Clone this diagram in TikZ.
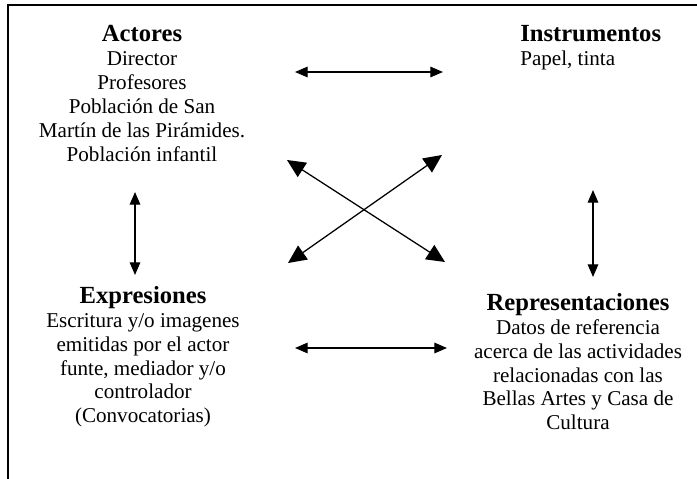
\documentclass[tikz,border=0pt]{standalone}
\usepackage{fontspec}
\setmainfont{Liberation Serif}
\usetikzlibrary{arrows.meta,positioning}

\begin{document}
\begin{tikzpicture}[
x=0.025cm, y=-0.025cm,
block/.style={inner sep=0pt, align={center}, font={\fontsize{15}{17}\selectfont}},
link/.style={line width=0.9pt, {Triangle[length=9pt,width=7.5pt]}-{Triangle[length=9pt,width=7.5pt]}},
cross/.style={line width=0.9pt, {Triangle[length=13pt,width=12pt]}-{Triangle[length=13pt,width=12pt]}}
]
\useasboundingbox (0,0) rectangle (697,479);
% frame
\draw[line width=1pt] (8,479) -- (8,5) -- (697,5);

\node[block, anchor=north] (actores) at (142,25) {
    {\fontsize{17.5}{18}\selectfont\bfseries Actores}\\
    Director\\
    Profesores\\
    Poblaci\'on de San\\
    Mart\'in de las Pir\'amides.\\
    Poblaci\'on infantil
};
\node[block, anchor=north west, align={left}] (instrumentos) at (520,25) {
    {\fontsize{17.5}{18}\selectfont\bfseries Instrumentos}\\
    Papel, tinta
};
\node[block, anchor=north] (expresiones) at (143,286) {
    {\fontsize{17.5}{18}\selectfont\bfseries Expresiones}\\
    Escritura y/o imagenes\\
    emitidas por el actor\\
    funte, mediador y/o\\
    controlador\\
    (Convocatorias)
};
\node[block, anchor=north] (representaciones) at (578,293) {
    {\fontsize{17.5}{18}\selectfont\bfseries Representaciones}\\
    Datos de referencia\\
    acerca de las actividades\\
    relacionadas con las\\
    Bellas Artes y Casa de\\
    Cultura
};

% arrow ends
\coordinate (actE) at (295,72);
\coordinate (insW) at (443,72);
\coordinate (expE) at (295,348);
\coordinate (repW) at (447,348);
\coordinate (actS) at (135,192);
\coordinate (expN) at (135,275);
\coordinate (insS) at (593,190);
\coordinate (repN) at (593,277);
\coordinate (actSE) at (287,160);
\coordinate (repNW) at (445,262);
\coordinate (expNE) at (288,263);
\coordinate (insSW) at (442,155);

\draw[link] (actE) -- (insW);
\draw[link] (expE) -- (repW);
\draw[link] (actS) -- (expN);
\draw[link] (insS) -- (repN);
\draw[cross] (actSE) -- (repNW);
\draw[cross] (expNE) -- (insSW);
\end{tikzpicture}
\end{document}
